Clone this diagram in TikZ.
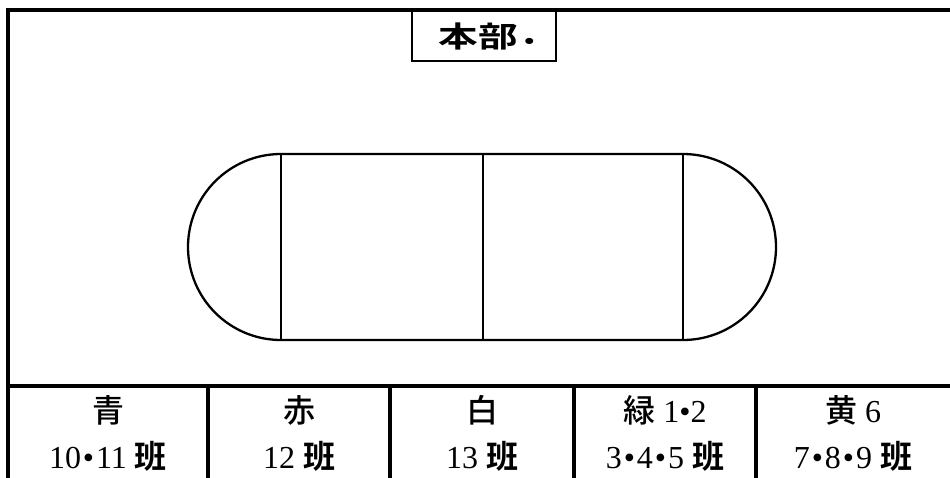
\documentclass[tikz,border=0pt]{standalone}
\usepackage{fontspec}
\usepackage{graphicx}
\setmainfont{Liberation Serif}
\newfontfamily\jp[BoldFont={Noto Sans CJK JP Bold}]{Noto Sans CJK JP Medium}
\newcommand{\dt}{\kern0.06em•\kern0.06em}
\newcommand{\ban}{{\jp\bfseries 班}}

\begin{document}
\begin{tikzpicture}[x=1pt,y=-1pt,
  frame/.style={line width=3.4pt},
  track/.style={line width=2.3pt},
  team node/.style={font=\fontsize{32}{33}\selectfont, inner sep=0pt, anchor=center}]

  \clip (0,0) rectangle (950,477);

  % outer frame and headquarters
  \draw[frame] (8,490) -- (8,10) -- (960,10);
  \draw[track] (412,10) -- (412,61) -- (556,61) -- (556,10);
  \node (hq) at (487,36) {\scalebox{1.2}[0.88]{\jp\bfseries\fontsize{33}{33}\selectfont 本部\,\scalebox{0.7}{•}}};

  % track
  \draw[track] (281,154) -- (683,154) arc[start angle=-90, end angle=90, radius=93]
    -- (281,340) arc[start angle=90, end angle=270, radius=93];
  \foreach \x in {281,483,683}
    \draw[track] (\x,154) -- (\x,340);

  % team table
  \draw[frame] (8,386) -- (960,386);
  \foreach \x in {208,390,574,756}
    \draw[frame] (\x,386) -- (\x,490);

  \node[team node] (blue)   at (108,410) {\jp 青};
  \node[team node] (red)    at (299,410) {\jp 赤};
  \node[team node] (white)  at (482,410) {\jp 白};
  \node[team node] (green)  at (665,410) {{\jp 緑} 1•2};
  \node[team node] (yellow) at (853,410) {{\jp 黄} 6};

  \node[team node] (blueN)   at (108,456) {10\dt11 \ban};
  \node[team node] (redN)    at (299,456) {12 \ban};
  \node[team node] (whiteN)  at (482,456) {13 \ban};
  \node[team node] (greenN)  at (665,456) {3\dt4\dt5 \ban};
  \node[team node] (yellowN) at (853,456) {7\dt8\dt9 \ban};
\end{tikzpicture}
\end{document}
